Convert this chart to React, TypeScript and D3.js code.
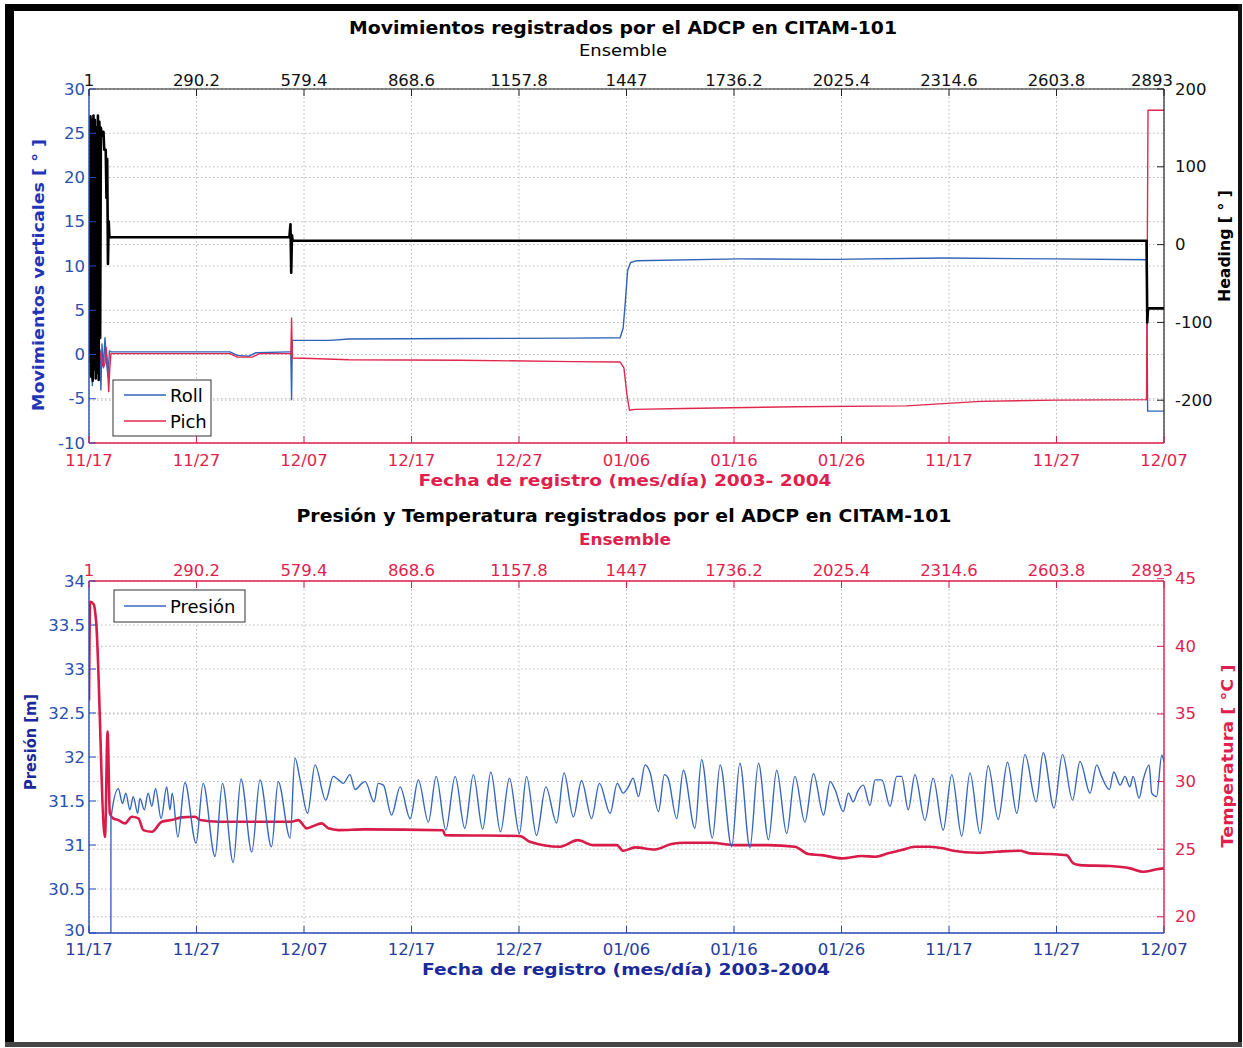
import React from "react";
import * as d3 from "d3";

// ---------- tick labels ----------
const ensembleTicks = [1, 290.2, 579.4, 868.6, 1157.8, 1447, 1736.2, 2025.4, 2314.6, 2603.8, 2893];
const dateLabels = ["11/17", "11/27", "12/07", "12/17", "12/27", "01/06", "01/16", "01/26", "11/17", "11/27", "12/07"];
const movTicks = [-10, -5, 0, 5, 10, 15, 20, 25, 30];
const headingTicks = [-200, -100, 0, 100, 200];
const pressTicks = [30, 30.5, 31, 31.5, 32, 32.5, 33, 33.5, 34];
const tempTicks = [20, 25, 30, 35, 40, 45];

// ---------- top panel series (ensemble index, degrees) ----------
const rollEns = [1, 4, 7, 10, 13, 16, 19, 22, 25, 28, 31, 33, 36, 40, 44, 48, 52, 56, 60, 200, 380, 400, 430, 450, 538, 544, 546, 548, 550, 650, 700, 1000, 1300, 1430, 1438, 1444, 1450, 1458, 1475, 1750, 2000, 2300, 2600, 2846, 2849, 2893];
const rollVal = [0.5, -2.5, 1.5, -3.5, 0.8, -1.0, 1.8, -2.0, 1.0, -1.5, 0.5, -4.0, 1.2, -1.5, 1.9, -0.8, -2.5, 0.4, 0.3, 0.3, 0.3, -0.1, -0.2, 0.2, 0.3, 0.3, -5.1, 1.6, 1.6, 1.6, 1.75, 1.8, 1.85, 1.9, 3.0, 6.0, 9.5, 10.4, 10.6, 10.8, 10.75, 10.9, 10.8, 10.7, -6.4, -6.4];

const pitchEns = [1, 5, 9, 13, 17, 21, 25, 29, 33, 37, 40, 44, 47, 50, 54, 57, 60, 380, 400, 440, 460, 544, 546, 548, 600, 700, 1000, 1300, 1430, 1440, 1448, 1455, 1470, 1600, 1900, 2200, 2400, 2600, 2846, 2850, 2893];
const pitchVal = [0.2, -1.0, 0.8, -0.5, 1.0, -1.5, 0.5, -0.8, 0.3, -1.2, -1.4, -1.0, 0.8, -0.5, -4.2, -1.5, 0.1, 0.1, -0.3, -0.3, 0.1, 0.1, 4.1, -0.4, -0.45, -0.6, -0.65, -0.8, -0.85, -1.5, -4.5, -6.3, -6.2, -6.1, -5.9, -5.8, -5.3, -5.15, -5.1, 27.6, 27.6];

const headEns = [1, 3, 5, 7, 9, 11, 13, 15, 17, 19, 21, 23, 25, 27, 29, 31, 33, 36, 40, 42, 46, 48, 50, 52, 54, 56, 540, 543, 545, 547, 549, 2846, 2848, 2850, 2893];
const headVal = [100, -150, 165, -170, 160, -175, 166, -160, 160, -172, 150, -165, 166, -174, 158, -120, 150, 140, 145, 122, 122, 60, 110, -25, 30, 9.4, 9.4, 26, -36, 12, 5, 5, -100, -82, -82];

// ---------- bottom panel series ----------
const pressEns = [1, 59, 60, 80, 91, 100, 111, 120, 132, 138, 150, 160, 170, 180, 195, 210, 219, 225, 240, 259, 289, 308, 340, 360, 389, 410, 439, 461, 492, 510, 542, 555, 569, 589, 609, 638, 658, 672, 685, 703, 717, 735, 744, 768, 779, 793, 815, 838, 865, 887, 914, 935, 961, 986, 1012, 1035, 1060, 1082, 1108, 1132, 1159, 1178, 1205, 1230, 1259, 1279, 1304, 1326, 1353, 1374, 1403, 1422, 1438, 1452, 1465, 1479, 1497, 1510, 1533, 1549, 1559, 1582, 1600, 1631, 1649, 1678, 1699, 1730, 1752, 1779, 1802, 1829, 1851, 1878, 1900, 1927, 1950, 1977, 1995, 2008, 2030, 2044, 2057, 2069, 2084, 2102, 2116, 2134, 2156, 2174, 2187, 2205, 2223, 2250, 2272, 2299, 2322, 2349, 2371, 2398, 2420, 2447, 2472, 2497, 2519, 2549, 2568, 2597, 2620, 2647, 2667, 2694, 2712, 2725, 2746, 2758, 2775, 2788, 2801, 2810, 2826, 2837, 2853, 2860, 2873, 2887, 2893];
const pressVal = [20, 20, 31.30, 31.64, 31.47, 31.59, 31.40, 31.55, 31.36, 31.53, 31.40, 31.59, 31.44, 31.64, 31.30, 31.66, 31.40, 31.59, 31.09, 31.71, 31.02, 31.70, 30.87, 31.70, 30.80, 31.75, 30.92, 31.74, 30.98, 31.72, 31.08, 31.99, 31.74, 31.36, 31.91, 31.51, 31.78, 31.74, 31.70, 31.80, 31.63, 31.70, 31.72, 31.49, 31.70, 31.68, 31.34, 31.66, 31.30, 31.74, 31.26, 31.78, 31.17, 31.78, 31.19, 31.80, 31.18, 31.83, 31.15, 31.76, 31.13, 31.78, 31.11, 31.66, 31.25, 31.82, 31.32, 31.73, 31.30, 31.70, 31.36, 31.70, 31.59, 31.66, 31.76, 31.55, 31.91, 31.83, 31.38, 31.80, 31.76, 31.30, 31.85, 31.19, 31.97, 31.08, 31.91, 30.98, 31.93, 30.97, 31.93, 31.06, 31.85, 31.13, 31.78, 31.26, 31.81, 31.34, 31.72, 31.63, 31.38, 31.59, 31.49, 31.61, 31.68, 31.45, 31.74, 31.74, 31.44, 31.78, 31.78, 31.40, 31.80, 31.28, 31.76, 31.17, 31.80, 31.10, 31.82, 31.13, 31.90, 31.29, 31.94, 31.36, 32.03, 31.49, 32.05, 31.42, 32.03, 31.51, 31.95, 31.59, 31.91, 31.78, 31.63, 31.83, 31.68, 31.78, 31.66, 31.78, 31.53, 31.74, 31.91, 31.59, 31.55, 32.02, 31.95];

const tempEns = [1, 4, 14, 20, 44, 51, 57, 66, 80, 98, 116, 134, 147, 170, 197, 223, 250, 286, 300, 349, 439, 546, 564, 587, 600, 627, 645, 672, 743, 953, 959, 1160, 1187, 1268, 1316, 1357, 1421, 1438, 1470, 1523, 1568, 1604, 1676, 1739, 1828, 1900, 1936, 1972, 2026, 2080, 2116, 2151, 2187, 2223, 2263, 2299, 2326, 2389, 2443, 2505, 2532, 2586, 2631, 2649, 2667, 2748, 2802, 2837, 2873, 2893];
const tempVal = [36, 43.3, 43.1, 41.9, 25.9, 33.7, 27.65, 27.28, 27.15, 26.91, 27.40, 27.28, 26.41, 26.29, 27.03, 27.15, 27.35, 27.40, 27.15, 27.03, 27.03, 27.03, 27.15, 26.54, 26.66, 26.91, 26.54, 26.41, 26.46, 26.40, 26.04, 25.97, 25.55, 25.18, 25.67, 25.30, 25.30, 24.88, 25.13, 24.98, 25.38, 25.47, 25.47, 25.30, 25.30, 25.18, 24.64, 24.56, 24.32, 24.49, 24.44, 24.69, 24.93, 25.18, 25.18, 25.06, 24.88, 24.73, 24.81, 24.88, 24.69, 24.64, 24.56, 23.95, 23.82, 23.75, 23.58, 23.33, 23.51, 23.58];

const FONT = "'DejaVu Sans', 'Liberation Sans', sans-serif";
const BLUE_TXT = "#2b4fb0";
const NAVY = "#1a2a9a";
const CRIMSON = "#e01f4e";
const GRID = "#b8b8b8";

const L = 89, R = 1164;
const T1 = 89, B1 = 443, T2 = 581, B2 = 933;
const RIGHT_LABEL_X = 1175;

const x = d3.scaleLinear().domain([1, 2893]).range([L, R]);
const yMov = d3.scaleLinear().domain([-10, 30]).range([B1, T1]);
const yHead = d3.scaleLinear().domain([-255, 200]).range([B1, T1]);
const yPress = d3.scaleLinear().domain([30, 34]).range([B2, T2]);
const yTemp = d3.scaleLinear().domain([18.8, 44.83]).range([B2, T2]);

function path(ens: number[], vals: number[], y: d3.ScaleLinear<number, number>, curve: d3.CurveFactory) {
  const line = d3
    .line<number>()
    .x((_, i) => x(ens[i]))
    .y((d) => y(d))
    .curve(curve);
  return line(vals) || "";
}

function Grid({ top, bottom, yl, yr, ticksL, ticksR }: any) {
  return (
    <g stroke={GRID} strokeWidth={1} strokeDasharray="1.5 2.5" fill="none">
      {ensembleTicks.map((t, i) => (
        <line key={"v" + i} x1={x(t)} x2={x(t)} y1={top} y2={bottom} />
      ))}
      {ticksL.map((t: number, i: number) => (
        <line key={"hl" + i} x1={L} x2={R} y1={yl(t)} y2={yl(t)} />
      ))}
      {ticksR.map((t: number, i: number) => (
        <line key={"hr" + i} x1={L} x2={R} y1={yr(t)} y2={yr(t)} />
      ))}
    </g>
  );
}

function BoldText(props: any) {
  const { children, ...rest } = props;
  return (
    <text fontFamily={FONT} fontWeight="bold" textAnchor="middle" dominantBaseline="central" lengthAdjust="spacingAndGlyphs" {...rest}>
      {children}
    </text>
  );
}

// last top tick label sits slightly left so it ends where the right-axis label begins
const topLabelX = (t: number, i: number) => (i === ensembleTicks.length - 1 ? x(t) - 12 : x(t));

export default function App() {
  const TK = 7;
  const tickFont = 16.5;

  return (
    <div style={{ position: "absolute", left: 0, top: 0 }}>
      <svg width={1243} height={1048} viewBox="0 0 1243 1048" style={{ display: "block", background: "#fff" }}>
        <defs>
          <clipPath id="clip1">
            <rect x={L} y={T1} width={R - L} height={B1 - T1} />
          </clipPath>
          <clipPath id="clip2">
            <rect x={L} y={T2} width={R - L} height={B2 - T2} />
          </clipPath>
        </defs>
        <rect x={0} y={0} width={1243} height={1048} fill="#fff" />

        {/* outer frame */}
        <rect x={5} y={4} width={9} height={1043} fill="#000" />
        <rect x={5} y={4} width={1236} height={7} fill="#000" />
        <rect x={1238} y={4} width={4} height={1043} fill="#111" />
        <rect x={5} y={1042} width={1237} height={5} fill="#444" />

        {/* ================= TOP PANEL ================= */}
        <BoldText x={623} y={28} fontSize={17} textLength={548} fill="#000">
          Movimientos registrados por el ADCP en CITAM-101
        </BoldText>
        <text x={623} y={50} fontFamily={FONT} fontSize={16} textAnchor="middle" dominantBaseline="central" fill="#000" textLength={88} lengthAdjust="spacingAndGlyphs">
          Ensemble
        </text>

        <Grid top={T1} bottom={B1} yl={yMov} yr={yHead} ticksL={movTicks} ticksR={headingTicks} />

        <g clipPath="url(#clip1)" fill="none" strokeLinejoin="round">
          <path d={path(rollEns, rollVal, yMov, d3.curveLinear)} stroke="#2f63b8" strokeWidth={1.4} />
          <path d={path(pitchEns, pitchVal, yMov, d3.curveLinear)} stroke="#e0284f" strokeWidth={1.4} />
          <path d={path(headEns, headVal, yHead, d3.curveLinear)} stroke="#000" strokeWidth={2.6} />
        </g>

        {/* axes lines */}
        <line x1={L} x2={R} y1={T1} y2={T1} stroke="#222" strokeWidth={1.2} />
        <line x1={R} x2={R} y1={T1} y2={B1} stroke="#222" strokeWidth={1.2} />
        <line x1={L} x2={L} y1={T1} y2={B1} stroke="#2a48b8" strokeWidth={1.4} />
        <line x1={L} x2={R} y1={B1} y2={B1} stroke={CRIMSON} strokeWidth={1.6} />

        {ensembleTicks.map((t, i) => (
          <g key={"t1" + i}>
            <line x1={x(t)} x2={x(t)} y1={T1} y2={T1 + TK} stroke="#222" />
            <line x1={x(t)} x2={x(t)} y1={B1} y2={B1 - TK} stroke={CRIMSON} />
            <text x={topLabelX(t, i)} y={80} fontFamily={FONT} fontSize={tickFont} textAnchor="middle" dominantBaseline="central" fill="#111">
              {String(t)}
            </text>
            <text x={x(t)} y={460} fontFamily={FONT} fontSize={tickFont} textAnchor="middle" dominantBaseline="central" fill={CRIMSON}>
              {dateLabels[i]}
            </text>
          </g>
        ))}
        {movTicks.map((t, i) => (
          <g key={"m" + i}>
            <line x1={L} x2={L + TK} y1={yMov(t)} y2={yMov(t)} stroke="#2a48b8" />
            <text x={85} y={yMov(t)} fontFamily={FONT} fontSize={tickFont} textAnchor="end" dominantBaseline="central" fill={BLUE_TXT}>
              {t}
            </text>
          </g>
        ))}
        {headingTicks.map((t, i) => (
          <g key={"h" + i}>
            <line x1={R} x2={R - TK} y1={yHead(t)} y2={yHead(t)} stroke="#222" />
            <text x={RIGHT_LABEL_X} y={yHead(t)} fontFamily={FONT} fontSize={tickFont} textAnchor="start" dominantBaseline="central" fill="#111">
              {t}
            </text>
          </g>
        ))}

        <BoldText x={625} y={480} fontSize={16} textLength={413} fill={CRIMSON}>
          Fecha de registro (mes/día) 2003- 2004
        </BoldText>
        <BoldText x={0} y={0} fontSize={16} textLength={272} fill="#1f35b5" transform="translate(38,275) rotate(-90)">
          Movimientos verticales [ ° ]
        </BoldText>
        <BoldText x={0} y={0} fontSize={16} textLength={112} fill="#000" transform="translate(1224,246) rotate(-90)">
          Heading [ ° ]
        </BoldText>

        {/* legend top */}
        <g>
          <rect x={113} y={380} width={98} height={56} fill="#fff" stroke="#333" strokeWidth={1} />
          <line x1={124} x2={166} y1={395} y2={395} stroke="#2f63b8" strokeWidth={1.5} />
          <line x1={124} x2={166} y1={421} y2={421} stroke="#e0284f" strokeWidth={1.5} />
          <text x={170} y={395} fontFamily={FONT} fontSize={18} dominantBaseline="central" fill="#000">Roll</text>
          <text x={170} y={421} fontFamily={FONT} fontSize={18} dominantBaseline="central" fill="#000">Pich</text>
        </g>

        {/* ================= BOTTOM PANEL ================= */}
        <BoldText x={624} y={516} fontSize={17} textLength={655} fill="#000">
          Presión y Temperatura registrados por el ADCP en CITAM-101
        </BoldText>
        <BoldText x={625} y={540} fontSize={15} textLength={92} fill={CRIMSON}>
          Ensemble
        </BoldText>

        <Grid top={T2} bottom={B2} yl={yPress} yr={yTemp} ticksL={pressTicks} ticksR={tempTicks.filter((t) => t < 45)} />

        <g clipPath="url(#clip2)" fill="none" strokeLinejoin="round">
          <path d={path(tempEns, tempVal, yTemp, d3.curveMonotoneX)} stroke="#d81b48" strokeWidth={2.6} />
          <path d={path(pressEns, pressVal, yPress, d3.curveMonotoneX)} stroke="#3767bd" strokeWidth={1.4} />
        </g>

        <line x1={L} x2={R} y1={T2} y2={T2} stroke={CRIMSON} strokeWidth={1.6} />
        <line x1={R} x2={R} y1={T2} y2={B2} stroke={CRIMSON} strokeWidth={1.4} />
        <line x1={L} x2={L} y1={T2} y2={B2} stroke="#2a48b8" strokeWidth={1.4} />
        <line x1={L} x2={R} y1={B2} y2={B2} stroke="#2a48b8" strokeWidth={1.6} />

        {ensembleTicks.map((t, i) => (
          <g key={"t2" + i}>
            <line x1={x(t)} x2={x(t)} y1={T2} y2={T2 + TK} stroke={CRIMSON} />
            <line x1={x(t)} x2={x(t)} y1={B2} y2={B2 - TK} stroke="#2a48b8" />
            <text x={topLabelX(t, i)} y={570} fontFamily={FONT} fontSize={tickFont} textAnchor="middle" dominantBaseline="central" fill={CRIMSON}>
              {String(t)}
            </text>
            <text x={x(t)} y={949} fontFamily={FONT} fontSize={tickFont} textAnchor="middle" dominantBaseline="central" fill="#24409e">
              {dateLabels[i]}
            </text>
          </g>
        ))}
        {pressTicks.map((t, i) => (
          <g key={"p" + i}>
            <line x1={L} x2={L + TK} y1={yPress(t)} y2={yPress(t)} stroke="#2a48b8" />
            <text x={85} y={yPress(t) - (i === 0 ? 3 : 0)} fontFamily={FONT} fontSize={tickFont} textAnchor="end" dominantBaseline="central" fill={BLUE_TXT}>
              {t}
            </text>
          </g>
        ))}
        {tempTicks.map((t, i) => (
          <g key={"tt" + i}>
            <line x1={R} x2={R - TK} y1={yTemp(t)} y2={yTemp(t)} stroke={CRIMSON} />
            <text x={RIGHT_LABEL_X} y={yTemp(t)} fontFamily={FONT} fontSize={tickFont} textAnchor="start" dominantBaseline="central" fill={CRIMSON}>
              {t}
            </text>
          </g>
        ))}

        <BoldText x={626} y={969} fontSize={16} textLength={408} fill={NAVY}>
          Fecha de registro (mes/día) 2003-2004
        </BoldText>
        <BoldText x={0} y={0} fontSize={16} textLength={96} fill={NAVY} transform="translate(30,742) rotate(-90)">
          Presión [m]
        </BoldText>
        <BoldText x={0} y={0} fontSize={16} textLength={183} fill={CRIMSON} transform="translate(1227,756) rotate(-90)">
          Temperatura [ °C ]
        </BoldText>

        {/* legend bottom */}
        <g>
          <rect x={114} y={590} width={131} height={32} fill="#fff" stroke="#333" strokeWidth={1} />
          <line x1={124} x2={166} y1={606} y2={606} stroke="#3767bd" strokeWidth={1.5} />
          <text x={170} y={606} fontFamily={FONT} fontSize={18} dominantBaseline="central" fill="#000">Presión</text>
        </g>
      </svg>
    </div>
  );
}
